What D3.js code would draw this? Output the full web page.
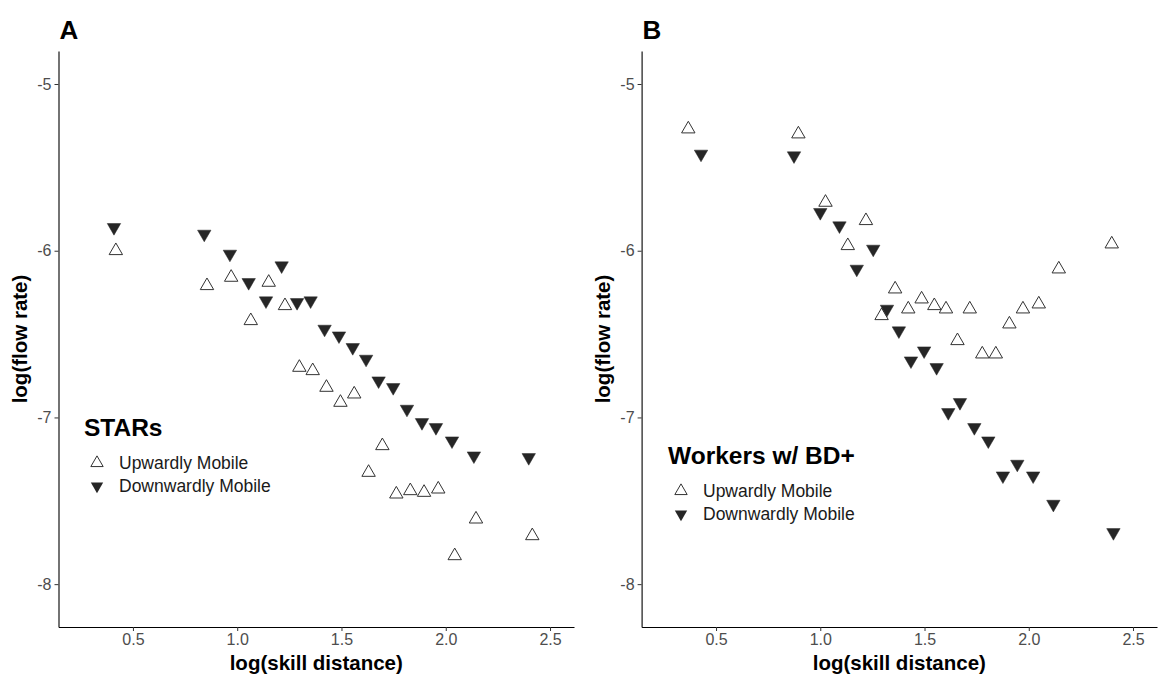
<!DOCTYPE html>
<html>
<head>
<meta charset="utf-8">
<script src="https://cdn.jsdelivr.net/npm/d3@7"></script>
<style>
  body { margin: 0; background: #fff; }
  svg { display: block; font-family: "Liberation Sans", Arial, sans-serif; }
</style>
</head>
<body>
<div id="chart"></div>
<script>
// panel A: STARs
const starsUpX   = [0.418, 0.855, 0.971, 1.065, 1.151, 1.229, 1.298, 1.362, 1.428, 1.495, 1.561, 1.630, 1.696, 1.763, 1.830, 1.896, 1.964, 2.043, 2.145, 2.415];
const starsUpY   = [-6.00, -6.21, -6.16, -6.42, -6.19, -6.33, -6.70, -6.72, -6.82, -6.91, -6.86, -7.33, -7.17, -7.46, -7.44, -7.45, -7.43, -7.83, -7.61, -7.71];
const starsDownX = [0.409, 0.842, 0.965, 1.055, 1.138, 1.213, 1.287, 1.352, 1.419, 1.488, 1.554, 1.618, 1.678, 1.748, 1.814, 1.886, 1.953, 2.030, 2.135, 2.398];
const starsDownY = [-5.86, -5.90, -6.02, -6.19, -6.30, -6.09, -6.31, -6.30, -6.47, -6.51, -6.58, -6.65, -6.78, -6.82, -6.95, -7.03, -7.06, -7.14, -7.23, -7.24];

// panel B: workers with BD+
const bdUpX   = [0.367, 0.895, 1.025, 1.132, 1.219, 1.294, 1.359, 1.422, 1.486, 1.547, 1.603, 1.658, 1.717, 1.777, 1.842, 1.907, 1.972, 2.048, 2.144, 2.398];
const bdUpY   = [-5.27, -5.30, -5.71, -5.97, -5.82, -6.39, -6.23, -6.35, -6.29, -6.33, -6.35, -6.54, -6.35, -6.62, -6.62, -6.44, -6.35, -6.32, -6.11, -5.96];
const bdDownX = [0.428, 0.874, 1.000, 1.092, 1.175, 1.254, 1.320, 1.377, 1.435, 1.498, 1.558, 1.614, 1.670, 1.739, 1.806, 1.876, 1.945, 2.021, 2.118, 2.406];
const bdDownY = [-5.42, -5.43, -5.77, -5.85, -6.11, -5.99, -6.35, -6.48, -6.66, -6.60, -6.70, -6.97, -6.91, -7.06, -7.14, -7.35, -7.28, -7.35, -7.52, -7.69];

const xTicks = [0.5, 1.0, 1.5, 2.0, 2.5];
const xTickLabels = ["0.5", "1.0", "1.5", "2.0", "2.5"];
const yTicks = [-5, -6, -7, -8];
const yTickLabels = ["-5", "-6", "-7", "-8"];
const seriesNames = ["Upwardly Mobile", "Downwardly Mobile"];

const W = 1160, H = 687;
const plotTop = 51, plotBottom = 627;
const font = "'Liberation Sans', Arial, sans-serif";

const svg = d3.select("#chart").append("svg")
    .attr("width", W)
    .attr("height", H);

const upSym = d3.symbol().type(d3.symbolTriangle).size(78);
const downSym = d3.symbol().type(d3.symbolTriangle).size(78);
const legUp = d3.symbol().type(d3.symbolTriangle).size(66);
const legDown = d3.symbol().type(d3.symbolTriangle).size(66);

function styleAxis(a) {
    a.attr("font-family", font);
    a.select(".domain").attr("stroke", "#000").attr("stroke-width", 1.1);
    a.selectAll(".tick line").attr("stroke", "#333");
    a.selectAll(".tick text").attr("fill", "#4d4d4d").style("font-size", "16px");
}

function drawPanel(p) {
    const x = d3.scaleLinear().domain([0.143, 2.615]).range([p.left, p.right]);
    const y = d3.scaleLinear().domain([-8.257, -4.802]).range([plotBottom, plotTop]);

    const g = svg.append("g");

    // x axis
    const xa = g.append("g")
        .attr("transform", `translate(0, ${plotBottom})`)
        .call(d3.axisBottom(x).tickValues(xTicks)
            .tickFormat((d, i) => xTickLabels[i])
            .tickSize(4).tickSizeOuter(0).tickPadding(3));
    styleAxis(xa);

    // y axis
    const ya = g.append("g")
        .attr("transform", `translate(${p.left}, 0)`)
        .call(d3.axisLeft(y).tickValues(yTicks)
            .tickFormat((d, i) => yTickLabels[i])
            .tickSize(4).tickSizeOuter(0).tickPadding(3));
    styleAxis(ya);

    // points
    const ups = p.upX.map((v, i) => ({x: v, y: p.upY[i]}));
    const downs = p.downX.map((v, i) => ({x: v, y: p.downY[i]}));

    g.selectAll(".up").data(ups).enter().append("path")
        .attr("transform", d => `translate(${x(d.x)}, ${y(d.y)})`)
        .attr("d", upSym)
        .attr("fill", "none")
        .attr("stroke", "#333")
        .attr("stroke-width", 1);

    g.selectAll(".down").data(downs).enter().append("path")
        .attr("transform", d => `translate(${x(d.x)}, ${y(d.y)}) rotate(180)`)
        .attr("d", downSym)
        .attr("fill", "#262626")
        .attr("stroke", "#262626")
        .attr("stroke-width", 0.5);

    // panel letter
    g.append("text")
        .attr("x", p.left + 1)
        .attr("y", 39)
        .style("font-size", "26px")
        .style("font-weight", "bold")
        .text(p.letter);

    // axis titles
    g.append("text")
        .attr("x", (p.left + p.right) / 2)
        .attr("y", 670)
        .attr("text-anchor", "middle")
        .style("font-size", "20.5px")
        .style("font-weight", "bold")
        .text("log(skill distance)");

    g.append("text")
        .attr("transform", `translate(${p.left - 32}, ${(plotTop + plotBottom) / 2}) rotate(-90)`)
        .attr("text-anchor", "middle")
        .style("font-size", "20.5px")
        .style("font-weight", "bold")
        .text("log(flow rate)");

    // legend
    const lg = g.append("g").attr("transform", `translate(${p.legX}, ${p.legY})`);
    lg.append("text")
        .attr("x", 0)
        .attr("y", 0)
        .style("font-size", "24.5px")
        .style("font-weight", "bold")
        .text(p.legTitle);
    lg.append("path")
        .attr("transform", "translate(13, 27)")
        .attr("d", legUp)
        .attr("fill", "none")
        .attr("stroke", "#333")
        .attr("stroke-width", 1);
    lg.append("path")
        .attr("transform", "translate(13, 50) rotate(180)")
        .attr("d", legDown)
        .attr("fill", "#262626");
    lg.selectAll(".lt").data(seriesNames).enter().append("text")
        .attr("x", 35)
        .attr("y", (d, i) => 32.5 + i * 23)
        .attr("fill", "#1a1a1a")
        .style("font-size", "17.5px")
        .text(d => d);
}

drawPanel({
    letter: "A", left: 58.5, right: 574,
    upX: starsUpX, upY: starsUpY, downX: starsDownX, downY: starsDownY,
    legTitle: "STARs", legX: 84, legY: 436
});

drawPanel({
    letter: "B", left: 641.6, right: 1157,
    upX: bdUpX, upY: bdUpY, downX: bdDownX, downY: bdDownY,
    legTitle: "Workers w/ BD+", legX: 668, legY: 464
});
</script>
</body>
</html>
